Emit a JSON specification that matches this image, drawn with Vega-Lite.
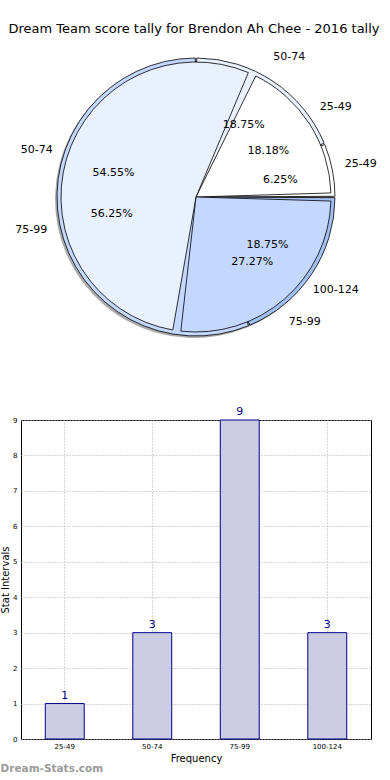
{
  "$schema": "https://vega.github.io/schema/vega-lite/v6.json",
  "padding": {"top": 23, "left": 0, "right": 0, "bottom": 0},
  "background": "white",
  "config": {"font": "DejaVu Sans", "view": {"stroke": null}},
  "title": {"text": "Dream Team score tally for Brendon Ah Chee - 2016 tally", "fontSize": 13, "fontWeight": "normal", "anchor": "middle", "frame": "group", "color": "black", "offset": 11, "dx": -2},
  "datasets": {
    "p1": [
      {"range": "25-49", "share": 0.0625, "idx": 1},
      {"range": "50-74", "share": 0.1875, "idx": 2},
      {"range": "75-99", "share": 0.5625, "idx": 3},
      {"range": "100-124", "share": 0.1875, "idx": 4}
    ],
    "p2": [
      {"range": "25-49", "share": 0.1818, "idx": 1},
      {"range": "50-74", "share": 0.5455, "idx": 2},
      {"range": "75-99", "share": 0.2727, "idx": 3}
    ],
    "bars": [
      {"range": "25-49", "count": 1},
      {"range": "50-74", "count": 3},
      {"range": "75-99", "count": 9},
      {"range": "100-124", "count": 3}
    ]
  },
  "bounds": "flush",
  "spacing": 73,
  "vconcat": [
    {
      "width": 350,
      "height": 300,
      "view": {"stroke": null},
      "encoding": {
        "theta": {"field": "share", "type": "quantitative", "stack": true, "scale": {"domain": [0, 1], "range": [1.5708, -4.7124]}},
        "order": {"field": "idx", "type": "quantitative"}
      },
      "layer": [
        {"data": {"name": "p1"}, "mark": {"type": "arc", "radius": 139, "fill": "#666", "opacity": 0.55, "xOffset": -2, "yOffset": 2}},
        {"data": {"name": "p1"}, "mark": {"type": "arc", "radius": 139, "stroke": "black", "strokeWidth": 0.8, "padAngle": 0.01},
         "encoding": {"color": {"field": "range", "type": "nominal", "legend": null, "scale": {"domain": ["25-49", "50-74", "75-99", "100-124"], "range": ["#ffffff", "#e9f0fe", "#c4d8ff", "#a3c0f5"]}}}},
        {"data": {"name": "p2"}, "mark": {"type": "arc", "radius": 135, "stroke": "black", "strokeWidth": 0.8, "padAngle": 0.06},
         "encoding": {"color": {"field": "range", "type": "nominal", "legend": null}}},
        {"data": {"name": "p1"}, "mark": {"type": "text", "radius": 86, "fontSize": 11, "color": "black"},
         "encoding": {"text": {"field": "share", "type": "quantitative", "format": ".2%"}}},
        {"data": {"name": "p2"}, "mark": {"type": "text", "radius": 86, "fontSize": 11, "color": "black"},
         "encoding": {"text": {"field": "share", "type": "quantitative", "format": ".2%"}}},
        {"data": {"name": "p1"}, "mark": {"type": "text", "radius": 168, "fontSize": 11, "color": "black"},
         "encoding": {"text": {"field": "range", "type": "nominal"}}},
        {"data": {"name": "p2"}, "mark": {"type": "text", "radius": 166, "fontSize": 11, "color": "black"},
         "encoding": {"text": {"field": "range", "type": "nominal"}}}
      ]
    },
    {
      "width": 350,
      "height": 319,
      "data": {"name": "bars"},
      "view": {"stroke": "black", "strokeWidth": 1},
      "title": {"text": "Dream-Stats.com", "orient": "bottom", "anchor": "start", "fontSize": 10.5, "fontWeight": "bold", "color": "#9a9a9a", "offset": 1},
      "encoding": {
        "x": {"field": "range", "type": "nominal", "sort": null, "title": "Frequency",
              "scale": {"paddingInner": 0.555, "paddingOuter": 0.2775},
              "axis": {"labelAngle": 0, "labelFontSize": 7, "labelColor": "black", "titleFontSize": 10, "titleFontWeight": "normal", "titleColor": "black", "titlePadding": 4, "grid": true, "gridDash": [1, 2], "gridColor": "#aaa", "bandPosition": 0.5, "ticks": false, "labelPadding": 3, "domain": false}},
        "y": {"field": "count", "type": "quantitative", "title": "Stat Intervals",
              "scale": {"domain": [0, 9], "nice": false},
              "axis": {"values": [0, 1, 2, 3, 4, 5, 6, 7, 8, 9], "labelFontSize": 7, "labelColor": "black", "titleFontSize": 10, "titleFontWeight": "normal", "titleColor": "black", "titlePadding": 2, "grid": true, "gridDash": [1, 2], "gridColor": "#aaa", "ticks": false, "labelPadding": 4, "domain": false}}
      },
      "layer": [
        {"mark": {"type": "bar", "fill": "#ccccE5", "stroke": "#00008b", "strokeWidth": 1}},
        {"mark": {"type": "text", "baseline": "bottom", "dy": -3, "fontSize": 11, "color": "#00008b"},
         "encoding": {"text": {"field": "count", "type": "quantitative"}}}
      ]
    }
  ]
}
